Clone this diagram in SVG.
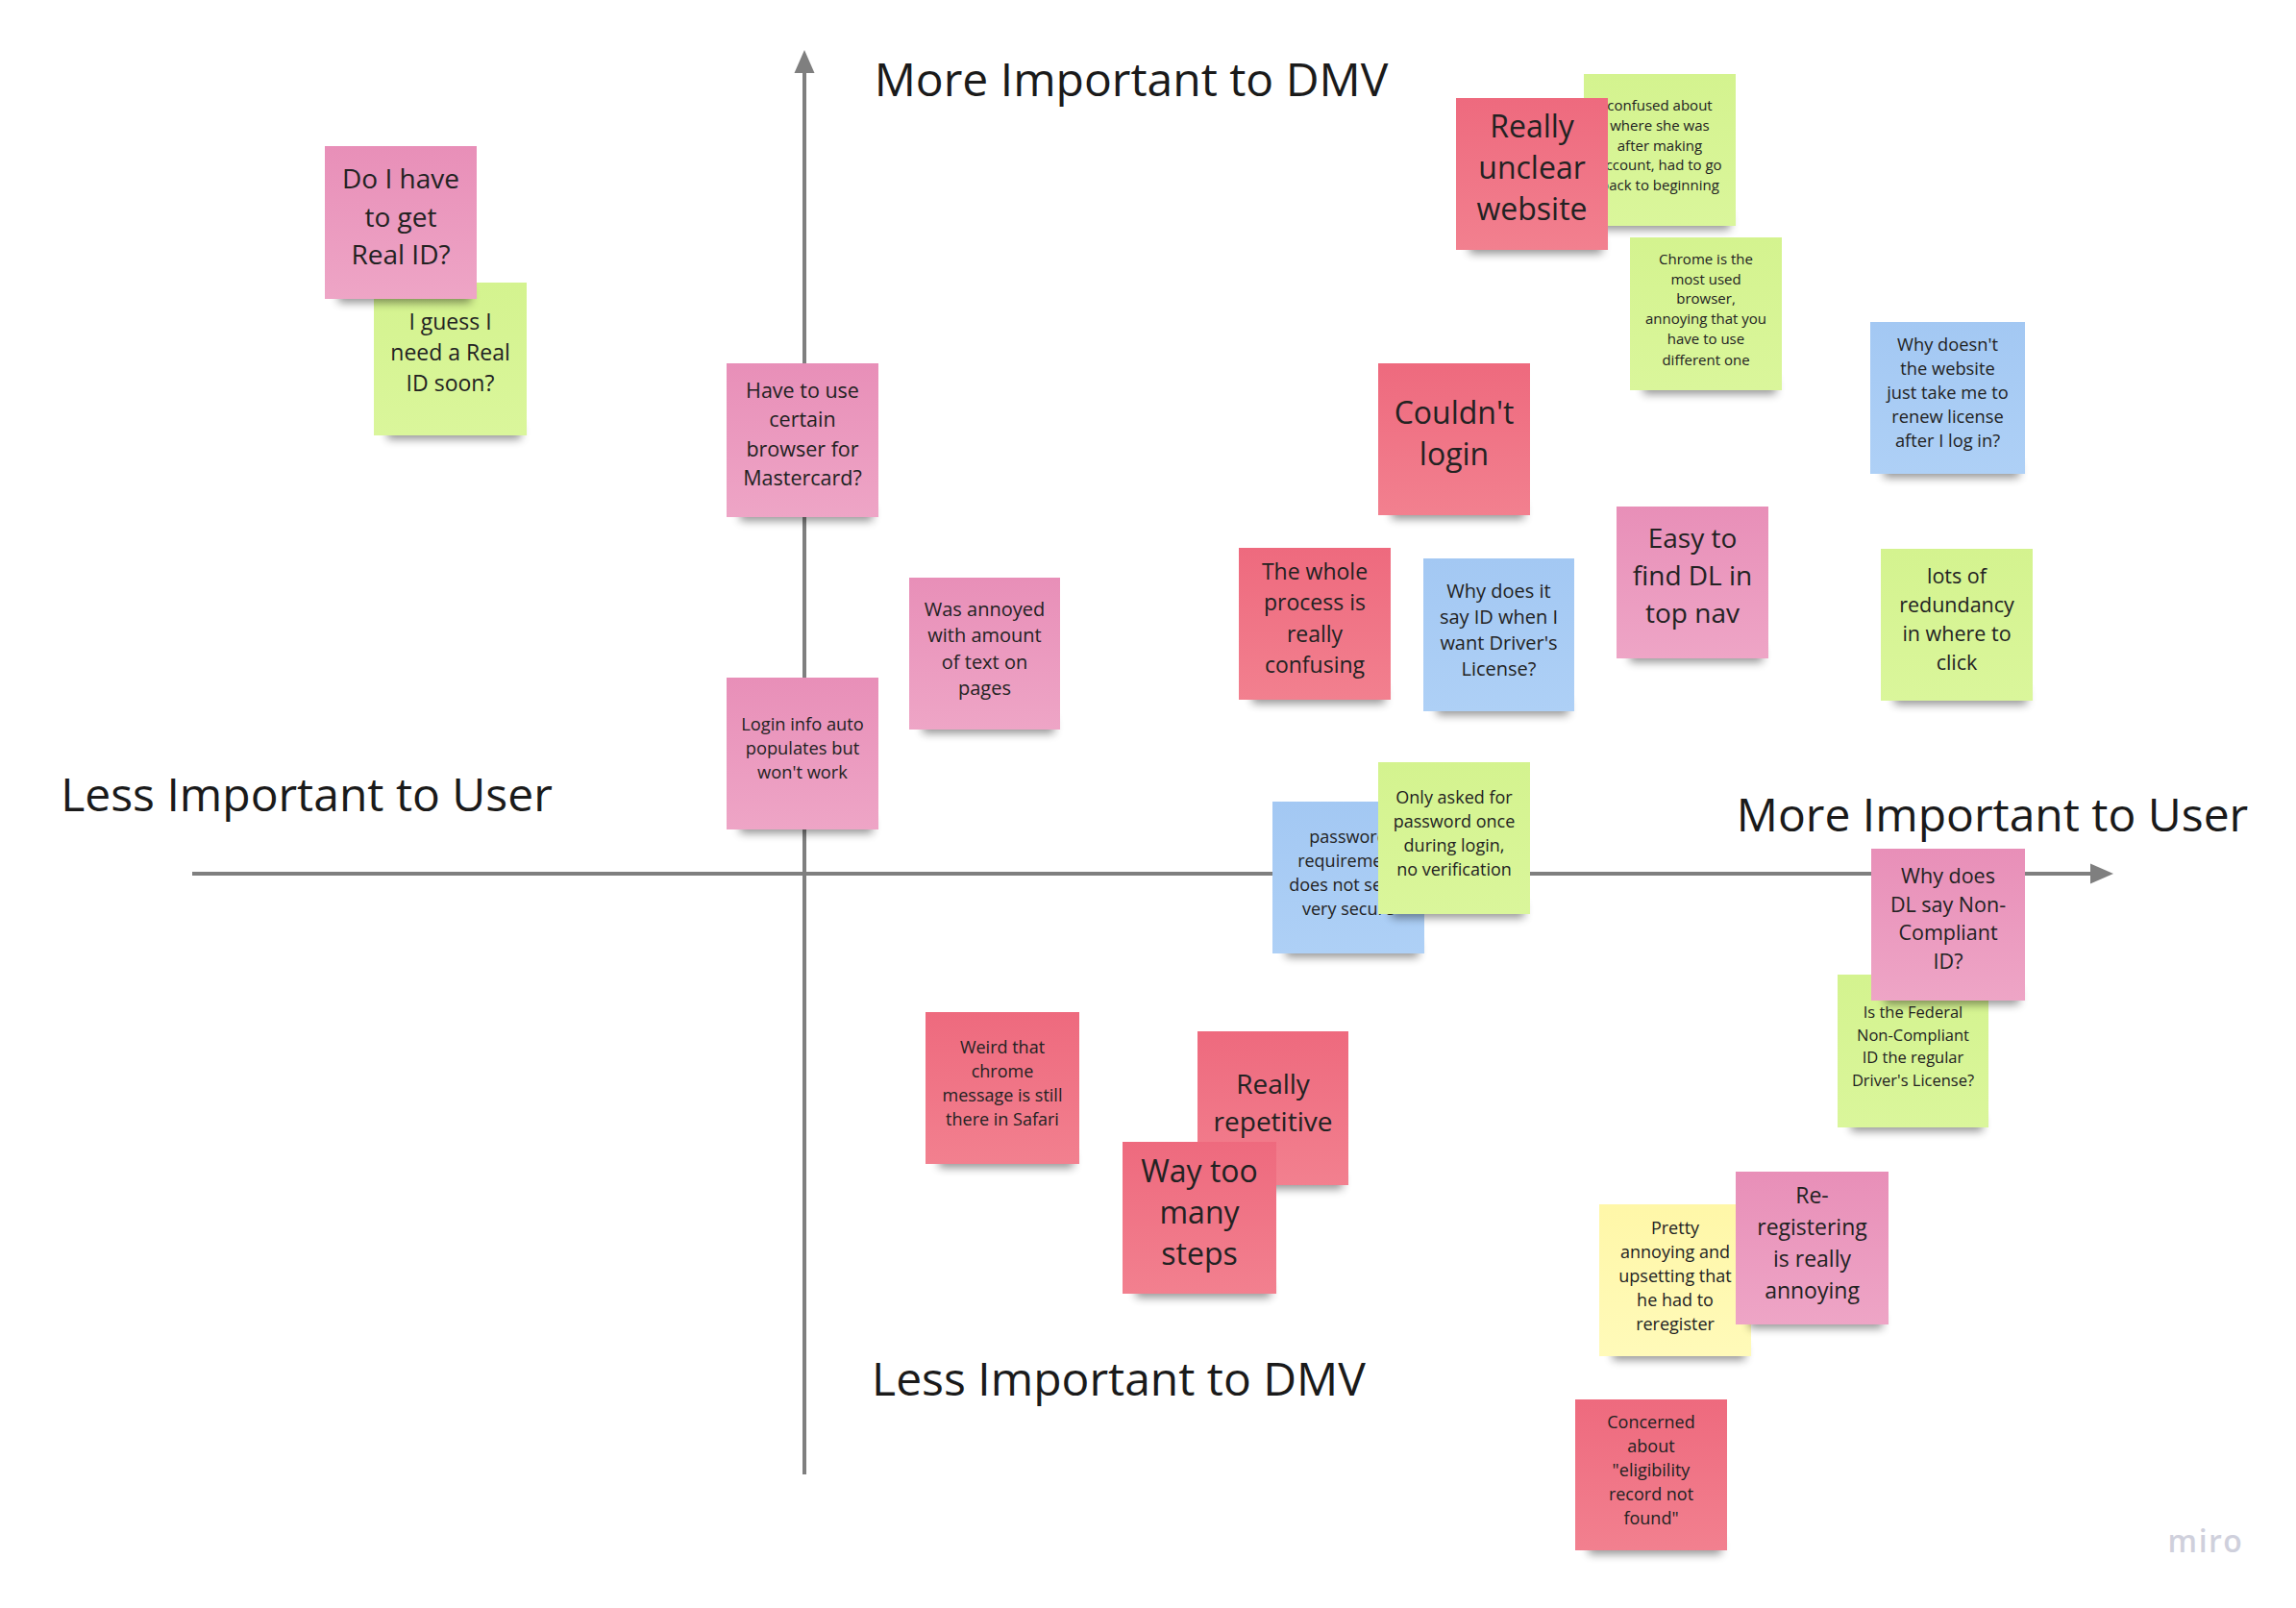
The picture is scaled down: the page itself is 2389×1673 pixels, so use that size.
<svg xmlns="http://www.w3.org/2000/svg" width="2389" height="1673" viewBox="0 0 2389 1673">
<style>
text{font-family:"Open Sans","Noto Sans","Liberation Sans",sans-serif;fill:#222;}
.t{text-anchor:middle;}
.axis-label{font-size:48px;text-anchor:middle;fill:#1a1a1a;}
.axis{stroke:#7f7f7f;stroke-width:4;fill:none;}
.sh{fill:#000;opacity:.42;filter:url(#blur);}
.pink{fill:url(#gPink);}
.red{fill:url(#gRed);}
.green{fill:url(#gGreen);}
.blue{fill:url(#gBlue);}
.yellow{fill:url(#gYellow);}
</style>
<defs>
<filter id="blur" x="-20%" y="-100%" width="140%" height="300%"><feGaussianBlur stdDeviation="5"/></filter>
<linearGradient id="gPink" x1="0" y1="0" x2="0" y2="1"><stop offset="0" stop-color="#E88FB8"/><stop offset="1" stop-color="#EEA5C6"/></linearGradient>
<linearGradient id="gRed" x1="0" y1="0" x2="0" y2="1"><stop offset="0" stop-color="#EE6A7E"/><stop offset="1" stop-color="#F2808F"/></linearGradient>
<linearGradient id="gGreen" x1="0" y1="0" x2="0" y2="1"><stop offset="0" stop-color="#D4F38F"/><stop offset="1" stop-color="#DAF69B"/></linearGradient>
<linearGradient id="gBlue" x1="0" y1="0" x2="0" y2="1"><stop offset="0" stop-color="#A3C8F3"/><stop offset="1" stop-color="#AED0F6"/></linearGradient>
<linearGradient id="gYellow" x1="0" y1="0" x2="0" y2="1"><stop offset="0" stop-color="#FFF7A8"/><stop offset="1" stop-color="#FFFAB9"/></linearGradient>
<marker id="arrow" markerWidth="6" markerHeight="6" refX="5" refY="3" orient="auto" markerUnits="strokeWidth"><path d="M0,0.5 L5.5,3 L0,5.5 Z" fill="#7f7f7f"/></marker>
</defs>
<rect width="2389" height="1673" fill="#fff"/>

<g id="connectors">
<line class="axis" x1="837" y1="1534" x2="837" y2="72"/>
<path d="M837,52 L826.5,76 L847.5,76 Z" fill="#7f7f7f"/>
<line class="axis" x1="200" y1="909" x2="2178" y2="909"/>
<path d="M2199,909 L2175,898.5 L2175,919.5 Z" fill="#7f7f7f"/>
</g>

<g id="labels">
<text class="axis-label" x="1177" y="100">More Important to DMV</text>
<text class="axis-label" x="319" y="844">Less Important to User</text>
<text class="axis-label" x="2073" y="865">More Important to User</text>
<text class="axis-label" x="1164" y="1452">Less Important to DMV</text>
</g>

<g id="note-guess-real-id">
<rect class="sh" x="403" y="441" width="139" height="16"/>
<rect class="green" x="389" y="294" width="159" height="159"/>
<text class="t" font-size="23"><tspan x="468.5" y="343">I guess I</tspan><tspan x="468.5" y="375">need a Real</tspan><tspan x="468.5" y="407">ID soon?</tspan></text>
</g>
<g id="note-real-id">
<rect class="sh" x="352" y="299" width="138" height="16"/>
<rect class="pink" x="338" y="152" width="158" height="159"/>
<text class="t" font-size="28"><tspan x="417" y="196">Do I have</tspan><tspan x="417" y="236">to get</tspan><tspan x="417" y="275">Real ID?</tspan></text>
</g>

<g id="note-browser-mastercard">
<rect class="sh" x="770" y="526" width="138" height="16"/>
<rect class="pink" x="756" y="378" width="158" height="160"/>
<text class="t" font-size="21.5"><tspan x="835" y="414">Have to use</tspan><tspan x="835" y="444">certain</tspan><tspan x="835" y="475">browser for</tspan><tspan x="835" y="505">Mastercard?</tspan></text>
</g>

<g id="note-amount-text">
<rect class="sh" x="960" y="747" width="137" height="16"/>
<rect class="pink" x="946" y="601" width="157" height="158"/>
<text class="t" font-size="20"><tspan x="1024.5" y="641">Was annoyed</tspan><tspan x="1024.5" y="668">with amount</tspan><tspan x="1024.5" y="696">of text on</tspan><tspan x="1024.5" y="723">pages</tspan></text>
</g>

<g id="note-login-autopopulate">
<rect class="sh" x="770" y="851" width="138" height="16"/>
<rect class="pink" x="756" y="705" width="158" height="158"/>
<text class="t" font-size="18.3"><tspan x="835" y="760">Login info auto</tspan><tspan x="835" y="785">populates but</tspan><tspan x="835" y="810">won't work</tspan></text>
</g>

<g id="note-confused-where">
<rect class="sh" x="1662" y="223" width="138" height="16"/>
<rect class="green" x="1648" y="77" width="158" height="158"/>
<text class="t" font-size="15"><tspan x="1727" y="115">confused about</tspan><tspan x="1727" y="136">where she was</tspan><tspan x="1727" y="157">after making</tspan><tspan x="1727" y="177">account, had to go</tspan><tspan x="1727" y="198">back to beginning</tspan></text>
</g>
<g id="note-unclear-website">
<rect class="sh" x="1529" y="248" width="138" height="16"/>
<rect class="red" x="1515" y="102" width="158" height="158"/>
<text class="t" font-size="32"><tspan x="1594" y="143">Really</tspan><tspan x="1594" y="186">unclear</tspan><tspan x="1594" y="229">website</tspan></text>
</g>

<g id="note-chrome-browser">
<rect class="sh" x="1710" y="394" width="138" height="16"/>
<rect class="green" x="1696" y="247" width="158" height="159"/>
<text class="t" font-size="15"><tspan x="1775" y="275">Chrome is the</tspan><tspan x="1775" y="296">most used</tspan><tspan x="1775" y="316">browser,</tspan><tspan x="1775" y="337">annoying that you</tspan><tspan x="1775" y="358">have to use</tspan><tspan x="1775" y="380">different one</tspan></text>
</g>

<g id="note-renew-license">
<rect class="sh" x="1960" y="481" width="141" height="16"/>
<rect class="blue" x="1946" y="335" width="161" height="158"/>
<text class="t" font-size="18.3"><tspan x="2026.5" y="365">Why doesn't</tspan><tspan x="2026.5" y="390">the website</tspan><tspan x="2026.5" y="415">just take me to</tspan><tspan x="2026.5" y="440">renew license</tspan><tspan x="2026.5" y="465">after I log in?</tspan></text>
</g>

<g id="note-couldnt-login">
<rect class="sh" x="1448" y="524" width="138" height="16"/>
<rect class="red" x="1434" y="378" width="158" height="158"/>
<text class="t" font-size="32"><tspan x="1513" y="441">Couldn't</tspan><tspan x="1513" y="484">login</tspan></text>
</g>

<g id="note-process-confusing">
<rect class="sh" x="1303" y="716" width="138" height="16"/>
<rect class="red" x="1289" y="570" width="158" height="158"/>
<text class="t" font-size="23"><tspan x="1368" y="603">The whole</tspan><tspan x="1368" y="635">process is</tspan><tspan x="1368" y="668">really</tspan><tspan x="1368" y="700">confusing</tspan></text>
</g>

<g id="note-id-vs-license">
<rect class="sh" x="1495" y="728" width="137" height="16"/>
<rect class="blue" x="1481" y="581" width="157" height="159"/>
<text class="t" font-size="20"><tspan x="1559.5" y="621.5">Why does it</tspan><tspan x="1559.5" y="648.5">say ID when I</tspan><tspan x="1559.5" y="675.5">want Driver's</tspan><tspan x="1559.5" y="702.5">License?</tspan></text>
</g>

<g id="note-easy-find-dl">
<rect class="sh" x="1696" y="673" width="138" height="16"/>
<rect class="pink" x="1682" y="527" width="158" height="158"/>
<text class="t" font-size="28"><tspan x="1761" y="570">Easy to</tspan><tspan x="1761" y="609">find DL in</tspan><tspan x="1761" y="648">top nav</tspan></text>
</g>

<g id="note-redundancy">
<rect class="sh" x="1971" y="717" width="138" height="16"/>
<rect class="green" x="1957" y="571" width="158" height="158"/>
<text class="t" font-size="21.5"><tspan x="2036" y="607">lots of</tspan><tspan x="2036" y="637">redundancy</tspan><tspan x="2036" y="667">in where to</tspan><tspan x="2036" y="697">click</tspan></text>
</g>

<g id="note-password-requirement">
<rect class="sh" x="1338" y="980" width="138" height="16"/>
<rect class="blue" x="1324" y="834" width="158" height="158"/>
<text class="t" font-size="18"><tspan x="1403" y="877">password</tspan><tspan x="1403" y="902">requirement</tspan><tspan x="1403" y="927">does not seem</tspan><tspan x="1403" y="952">very secure</tspan></text>
</g>
<g id="note-password-once">
<rect class="sh" x="1448" y="939" width="138" height="16"/>
<rect class="green" x="1434" y="793" width="158" height="158"/>
<text class="t" font-size="18"><tspan x="1513" y="836">Only asked for</tspan><tspan x="1513" y="861">password once</tspan><tspan x="1513" y="886">during login,</tspan><tspan x="1513" y="911">no verification</tspan></text>
</g>

<g id="note-federal-noncompliant">
<rect class="sh" x="1926" y="1161" width="137" height="16"/>
<rect class="green" x="1912" y="1014" width="157" height="159"/>
<text class="t" font-size="16.5"><tspan x="1990.5" y="1059">Is the Federal</tspan><tspan x="1990.5" y="1083">Non-Compliant</tspan><tspan x="1990.5" y="1106">ID the regular</tspan><tspan x="1990.5" y="1130">Driver's License?</tspan></text>
</g>
<g id="note-dl-noncompliant">
<rect class="sh" x="1961" y="1029" width="140" height="16"/>
<rect class="pink" x="1947" y="883" width="160" height="158"/>
<text class="t" font-size="21.5"><tspan x="2027" y="919">Why does</tspan><tspan x="2027" y="948.5">DL say Non-</tspan><tspan x="2027" y="978">Compliant</tspan><tspan x="2027" y="1007.5">ID?</tspan></text>
</g>

<g id="note-chrome-message-safari">
<rect class="sh" x="977" y="1199" width="140" height="16"/>
<rect class="red" x="963" y="1053" width="160" height="158"/>
<text class="t" font-size="18"><tspan x="1043" y="1095.5">Weird that</tspan><tspan x="1043" y="1120.5">chrome</tspan><tspan x="1043" y="1145.5">message is still</tspan><tspan x="1043" y="1170.5">there in Safari</tspan></text>
</g>

<g id="note-repetitive">
<rect class="sh" x="1260" y="1221" width="137" height="16"/>
<rect class="red" x="1246" y="1073" width="157" height="160"/>
<text class="t" font-size="28"><tspan x="1324.5" y="1138">Really</tspan><tspan x="1324.5" y="1177">repetitive</tspan></text>
</g>
<g id="note-too-many-steps">
<rect class="sh" x="1182" y="1334" width="140" height="16"/>
<rect class="red" x="1168" y="1188" width="160" height="158"/>
<text class="t" font-size="32"><tspan x="1248" y="1229.5">Way too</tspan><tspan x="1248" y="1272.5">many</tspan><tspan x="1248" y="1315.5">steps</tspan></text>
</g>

<g id="note-upsetting-reregister">
<rect class="sh" x="1678" y="1399" width="138" height="16"/>
<rect class="yellow" x="1664" y="1253" width="158" height="158"/>
<text class="t" font-size="18"><tspan x="1743" y="1283.5">Pretty</tspan><tspan x="1743" y="1308.5">annoying and</tspan><tspan x="1743" y="1333.5">upsetting that</tspan><tspan x="1743" y="1358.5">he had to</tspan><tspan x="1743" y="1383.5">reregister</tspan></text>
</g>
<g id="note-reregistering-annoying">
<rect class="sh" x="1820" y="1366" width="139" height="16"/>
<rect class="pink" x="1806" y="1219" width="159" height="159"/>
<text class="t" font-size="23"><tspan x="1885.5" y="1251.5">Re-</tspan><tspan x="1885.5" y="1284.5">registering</tspan><tspan x="1885.5" y="1317.5">is really</tspan><tspan x="1885.5" y="1350.5">annoying</tspan></text>
</g>

<g id="note-eligibility-record">
<rect class="sh" x="1653" y="1601" width="138" height="16"/>
<rect class="red" x="1639" y="1456" width="158" height="157"/>
<text class="t" font-size="18"><tspan x="1718" y="1485.5">Concerned</tspan><tspan x="1718" y="1510.5">about</tspan><tspan x="1718" y="1535.5">"eligibility</tspan><tspan x="1718" y="1560.5">record not</tspan><tspan x="1718" y="1585.5">found"</tspan></text>
</g>

<g id="miro-logo">
<text x="2295" y="1615" font-size="32" font-weight="600" letter-spacing="1.5" text-anchor="middle" style="fill:#cfd0dc">miro</text>
</g>
</svg>
